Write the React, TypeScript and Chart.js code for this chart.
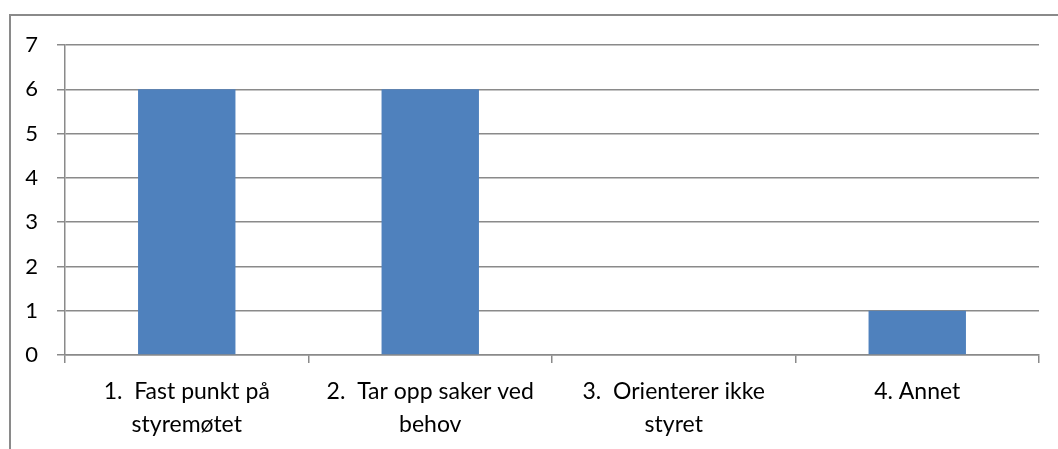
import React, { useEffect, useRef } from "react";
import { Chart, registerables } from "chart.js";

Chart.register(...registerables);

const categories: string[][] = [
  ["1.  Fast punkt på", "styremøtet"],
  ["2.  Tar opp saker ved", "behov"],
  ["3.  Orienterer ikke", "styret"],
  ["4. Annet"],
];
const values: number[] = [6, 6, 0, 1];
const yMin = 0;
const yMax = 7;
const yStep = 1;

const FONT = "Lato, 'Open Sans', sans-serif";
const GRID = "#8a8a8a";

export default function App() {
  const ref = useRef<HTMLCanvasElement | null>(null);

  useEffect(() => {
    if (!ref.current) return;
    const chart = new Chart(ref.current, {
      type: "bar",
      data: {
        labels: categories,
        datasets: [
          {
            data: values,
            backgroundColor: "#4F81BD",
            borderWidth: 0,
            barPercentage: 0.4,
            categoryPercentage: 1,
          },
        ],
      },
      options: {
        animation: false,
        responsive: false,
        maintainAspectRatio: false,
        layout: { padding: { left: 0, top: 45, right: 19, bottom: 0 } },
        plugins: {
          legend: { display: false },
          tooltip: { enabled: false },
          title: { display: false },
        },
        scales: {
          x: {
            offset: true,
            grid: {
              offset: true,
              drawOnChartArea: false,
              drawTicks: true,
              tickLength: 8,
              color: GRID,
              lineWidth: 1.5,
            },
            border: { display: true, color: GRID, width: 1.5 },
            ticks: {
              color: "#000",
              padding: 12,
              maxRotation: 0,
              autoSkip: false,
              font: { family: FONT, size: 23, lineHeight: "33px" } as any,
            },
            afterFit: (s: any) => {
              s.height = 94;
            },
          },
          y: {
            min: yMin,
            max: yMax,
            grid: {
              color: GRID,
              lineWidth: 1.5,
              tickLength: 8,
            },
            border: { display: true, color: GRID, width: 1.5 },
            ticks: {
              stepSize: yStep,
              color: "#000",
              padding: 19,
              font: { family: FONT, size: 22 },
            },
            afterFit: (s: any) => {
              s.width = 65;
            },
          },
        },
      },
    });
    return () => chart.destroy();
  }, []);

  return (
    <div
      style={{
        position: "fixed",
        left: 0,
        top: 0,
        width: 1058,
        height: 449,
        overflow: "hidden",
        background: "#fff",
      }}
    >
      <div
        style={{
          position: "absolute",
          left: 9,
          top: 14,
          width: 1100,
          height: 500,
          borderLeft: "2px solid #8a8a8a",
          borderTop: "2px solid #8a8a8a",
        }}
      />
      <canvas
        ref={ref}
        width={1058}
        height={449}
        style={{ position: "absolute", left: 0, top: 0 }}
      />
    </div>
  );
}
